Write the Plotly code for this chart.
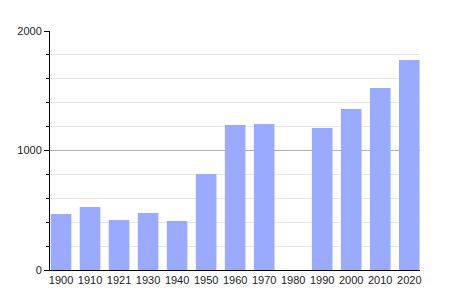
import plotly.graph_objects as go

years = ["1900", "1910", "1921", "1930", "1940", "1950", "1960", "1970", "1980", "1990", "2000", "2010", "2020"]
population = [469, 527, 418, 477, 410, 803, 1213, 1222, None, 1188, 1347, 1523, 1757]
y_ticks = [0, 1000, 2000]

fig = go.Figure(go.Bar(x=years, y=population, marker=dict(color="#9aabff", line=dict(width=0))))

fig.update_layout(
    width=450, height=300,
    margin=dict(l=50, r=30, t=31, b=30),
    paper_bgcolor="white", plot_bgcolor="white",
    bargap=0.29,
    showlegend=False,
    font=dict(family="Liberation Sans, Arial, sans-serif", size=11, color="#222"),
)
fig.update_xaxes(
    type="category", range=[-0.38, 12.37],
    showline=True, linecolor="black", linewidth=1,
    ticks="", showgrid=False, tickfont=dict(size=11),
)
fig.update_yaxes(
    range=[0, 2000], tickvals=y_ticks,
    showline=True, linecolor="black", linewidth=1,
    ticks="outside", ticklen=5, tickcolor="black",
    showgrid=True, gridcolor="#b0b0b0", gridwidth=1,
    zeroline=False,
    minor=dict(dtick=200, ticks="outside", ticklen=3, tickcolor="black",
               showgrid=True, gridcolor="#e6e6e6", gridwidth=1),
    tickfont=dict(size=11),
)

fig.write_html("out.html")
